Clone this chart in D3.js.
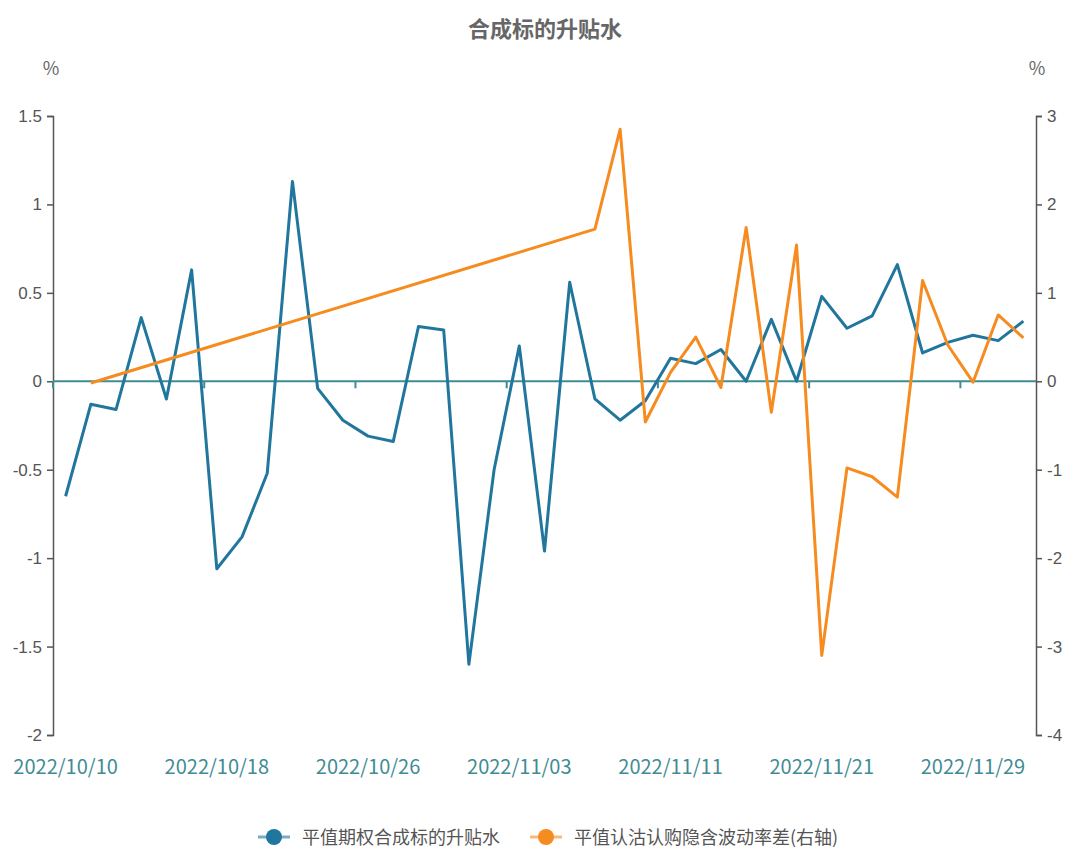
<!DOCTYPE html>
<html lang="zh">
<head>
    <meta charset="UTF-8">
    <title>合成标的升贴水</title>
    <script src="https://d3js.org/d3.v7.min.js"></script>
    <style>
        body { margin: 0; background: #fff; font-family: "Noto Sans CJK SC", "Noto Sans", sans-serif; }
        .yaxis path, .yaxis line { stroke: #555; stroke-width: 1.5; }
        .yaxis text { fill: #555; font-size: 17px; }
        .xaxis path, .xaxis line { stroke: #3f8c94; stroke-width: 2; }
        .xaxis text { fill: #3f8c94; font-size: 20px; }
    </style>
</head>
<body>
<svg width="1069" height="852"></svg>
<script>
    // 交易日
    const dates = [
        "2022/10/10","2022/10/11","2022/10/12","2022/10/13","2022/10/14",
        "2022/10/17","2022/10/18","2022/10/19","2022/10/20","2022/10/21",
        "2022/10/24","2022/10/25","2022/10/26","2022/10/27","2022/10/28",
        "2022/10/31","2022/11/01","2022/11/02","2022/11/03","2022/11/04",
        "2022/11/07","2022/11/08","2022/11/09","2022/11/10","2022/11/11",
        "2022/11/14","2022/11/15","2022/11/16","2022/11/17","2022/11/18",
        "2022/11/21","2022/11/22","2022/11/23","2022/11/24","2022/11/25",
        "2022/11/28","2022/11/29","2022/11/30","2022/12/01"
    ];

    // 平值期权合成标的升贴水 (左轴, %)
    const premium = [
        -0.65, -0.13, -0.16, 0.36, -0.10, 0.63, -1.06, -0.88, -0.52, 1.13,
        -0.04, -0.22, -0.31, -0.34, 0.31, 0.29, -1.60, -0.50, 0.20, -0.96,
        0.56, -0.10, -0.22, -0.11, 0.13, 0.10, 0.18, 0.00, 0.35, 0.00,
        0.48, 0.30, 0.37, 0.66, 0.16, 0.22, 0.26, 0.23, 0.34
    ];

    // 平值认沽认购隐含波动率差 (右轴, %) — 缺失值为 null，连线跨过
    const ivSpread = [
        null, -0.02, null, null, null, null, null, null, null, null,
        null, null, null, null, null, null, null, null, null, null,
        null, 1.72, 2.85, -0.46, 0.10, 0.50, -0.07, 1.74, -0.35, 1.54,
        -3.10, -0.98, -1.08, -1.31, 1.14, 0.41, -0.01, 0.75, 0.49
    ];

    const leftTicks = [-2, -1.5, -1, -0.5, 0, 0.5, 1, 1.5];
    const rightTicks = [-4, -3, -2, -1, 0, 1, 2, 3];
    const seriesNames = ["平值期权合成标的升贴水", "平值认沽认购隐含波动率差(右轴)"];
    const colors = ["#21769e", "#f68b1f"];

    const svg = d3.select("svg");
    const margin = { left: 53, right: 1036, top: 116, bottom: 735 };

    const x = d3.scaleBand().domain(dates).range([margin.left, margin.right]).padding(0);
    const yL = d3.scaleLinear().domain([-2, 1.5]).range([margin.bottom, margin.top]);
    const yR = d3.scaleLinear().domain([-4, 3]).range([margin.bottom, margin.top]);
    const cx = d => x(d) + x.bandwidth() / 2;

    // title
    svg.append("text")
        .attr("x", 545).attr("y", 37)
        .attr("text-anchor", "middle")
        .style("font-size", "22px").style("font-weight", "bold").style("fill", "#666")
        .text("合成标的升贴水");

    // axis names
    svg.append("text").attr("x", 51).attr("y", 75).attr("text-anchor", "middle")
        .style("font-size", "18px").style("fill", "#666").text("%");
    svg.append("text").attr("x", 1037).attr("y", 75).attr("text-anchor", "middle")
        .style("font-size", "18px").style("fill", "#666").text("%");

    // y axes
    svg.append("g")
        .attr("class", "yaxis")
        .attr("transform", `translate(${margin.left},0)`)
        .call(d3.axisLeft(yL).tickValues(leftTicks).tickFormat(d => String(d)).tickSizeOuter(0).tickSize(6).tickPadding(5));

    svg.append("g")
        .attr("class", "yaxis")
        .attr("transform", `translate(${margin.right},0)`)
        .call(d3.axisRight(yR).tickValues(rightTicks).tickFormat(d => String(d)).tickSizeOuter(0).tickSize(6).tickPadding(5));

    // x axis on zero line
    const xg = svg.append("g")
        .attr("class", "xaxis")
        .attr("transform", `translate(0,${yL(0)})`);
    xg.append("line")
        .attr("x1", margin.left).attr("x2", margin.right)
        .attr("y1", 0).attr("y2", 0);
    const tickIdx = dates.map((d, i) => i).filter(i => i % 6 === 0);
    xg.selectAll(".tick")
        .data(tickIdx)
        .join("line")
        .attr("x1", i => x(dates[i])).attr("x2", i => x(dates[i]))
        .attr("y1", 0).attr("y2", 7);
    svg.append("g")
        .attr("class", "xaxis")
        .selectAll("text")
        .data(tickIdx)
        .join("text")
        .attr("x", i => cx(dates[i]))
        .attr("y", 774)
        .attr("text-anchor", "middle")
        .text(i => dates[i]);

    // lines
    const lineL = d3.line().x(d => cx(d.date)).y(d => yL(d.v));
    const lineR = d3.line().x(d => cx(d.date)).y(d => yR(d.v));

    const s1 = dates.map((d, i) => ({ date: d, v: premium[i] })).filter(d => d.v != null);
    const s2 = dates.map((d, i) => ({ date: d, v: ivSpread[i] })).filter(d => d.v != null);

    svg.append("path").datum(s1)
        .attr("d", lineL)
        .attr("fill", "none").attr("stroke", colors[0])
        .attr("stroke-width", 3).attr("stroke-linejoin", "round");

    svg.append("path").datum(s2)
        .attr("d", lineR)
        .attr("fill", "none").attr("stroke", colors[1])
        .attr("stroke-width", 3).attr("stroke-linejoin", "round");

    // legend
    const legendPos = [258, 530];
    const lg = svg.append("g").selectAll("g")
        .data(seriesNames)
        .join("g")
        .attr("transform", (d, i) => `translate(${legendPos[i]},837)`);
    lg.append("line")
        .attr("x1", 0).attr("x2", 32).attr("y1", 0).attr("y2", 0)
        .attr("stroke", (d, i) => colors[i]).attr("stroke-width", 3).attr("opacity", 0.6);
    lg.append("circle")
        .attr("cx", 16).attr("cy", 0).attr("r", 8)
        .attr("fill", (d, i) => colors[i]);
    lg.append("text")
        .attr("x", 44).attr("y", 7)
        .style("font-size", "18px").style("fill", "#555")
        .text(d => d);
</script>
</body>
</html>
